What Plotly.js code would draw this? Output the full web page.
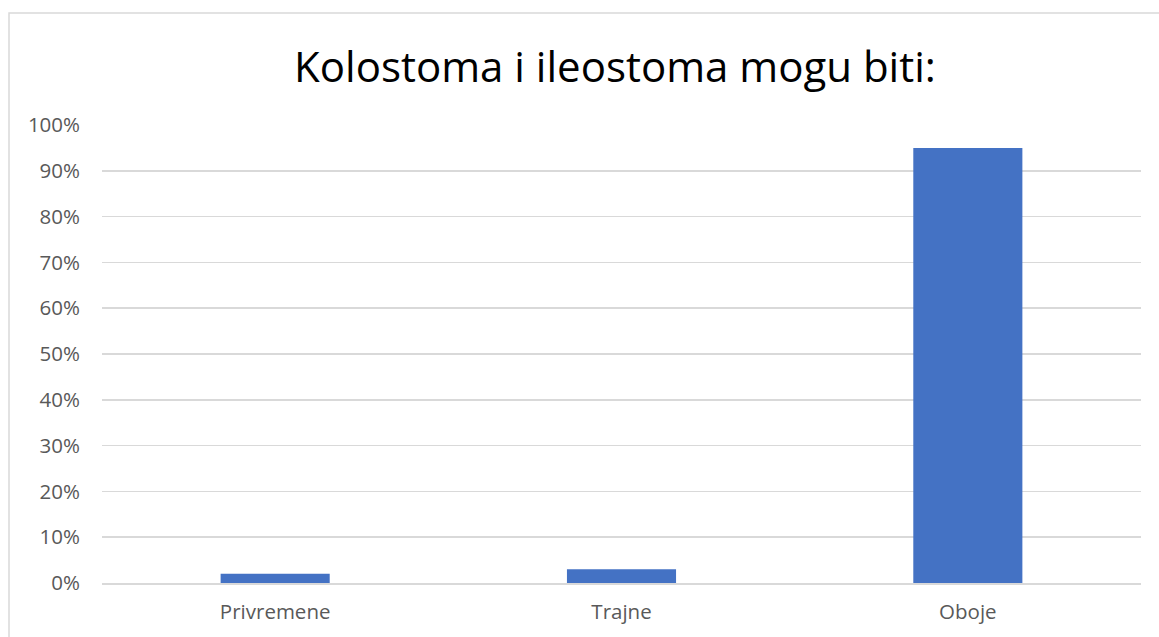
<!DOCTYPE html>
<html>
<head>
<meta charset="utf-8">
<script src="https://cdn.plot.ly/plotly-3.0.1.min.js"></script>
<style>html,body{margin:0;padding:0;background:#fff;}#chart{width:1159px;height:637px;}</style>
</head>
<body>
<div id="chart"></div>
<script>
const categories = ["Privremene", "Trajne", "Oboje"];
const values = [0.02, 0.03, 0.95];
const tickValues = [0, 0.1, 0.2, 0.3, 0.4, 0.5, 0.6, 0.7, 0.8, 0.9, 1.0];
const tickLabels = ["0%", "10%", "20%", "30%", "40%", "50%", "60%", "70%", "80%", "90%", "100%"];
const chartTitle = "Kolostoma i ileostoma mogu biti:";

const font = "'Open Sans', 'Liberation Sans', sans-serif";

Plotly.newPlot("chart", [{
  type: "bar",
  x: categories,
  y: values,
  marker: {color: "#4472C4"},
  hoverinfo: "x+y"
}], {
  width: 1159,
  height: 637,
  margin: {l: 102, r: 18, t: 125, b: 54},
  paper_bgcolor: "#ffffff",
  plot_bgcolor: "#ffffff",
  bargap: 0.685,
  showlegend: false,
  title: {
    text: chartTitle,
    font: {family: font, size: 42, color: "#000000"},
    x: 0.5306, xanchor: "center",
    y: 0.895, yanchor: "middle"
  },
  xaxis: {
    type: "category",
    showgrid: false,
    showline: true,
    linecolor: "#d9d9d9",
    linewidth: 1.5,
    ticks: "",
    tickfont: {family: font, size: 20.5, color: "#595959"},
    ticklabelstandoff: 10
  },
  yaxis: {
    range: [0, 1],
    tickvals: tickValues,
    ticktext: tickLabels,
    showgrid: true,
    gridcolor: "#d9d9d9",
    gridwidth: 1.5,
    zeroline: false,
    showline: false,
    ticks: "",
    tickfont: {family: font, size: 20.5, color: "#595959"},
    ticklabelstandoff: 21
  },
  shapes: [{
    type: "rect", xref: "paper", yref: "paper",
    x0: -0.0895, x1: 1.02, y0: -0.13, y1: 1.2445,
    line: {color: "#d9d9d9", width: 1.5},
    fillcolor: "rgba(0,0,0,0)",
    layer: "below"
  }]
}, {staticPlot: true});
</script>
</body>
</html>
